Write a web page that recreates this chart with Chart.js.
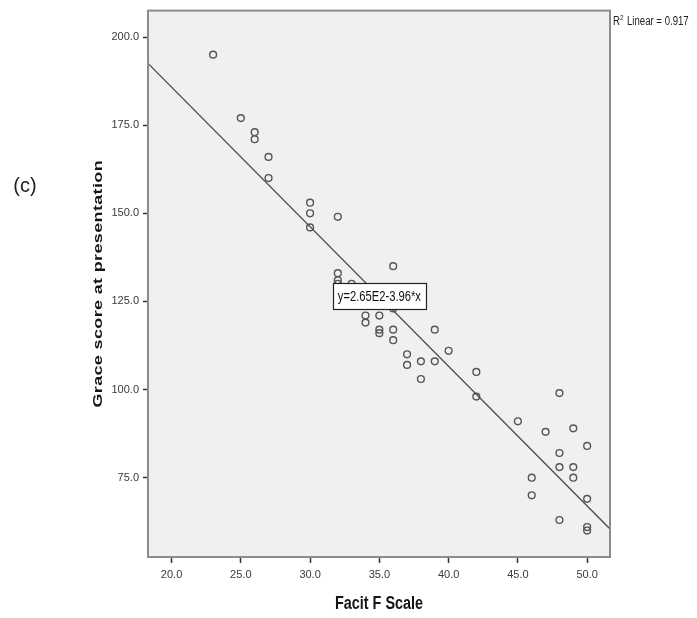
<!DOCTYPE html>
<html><head><meta charset="utf-8">
<script src="https://cdn.jsdelivr.net/npm/chart.js@4.4.1/dist/chart.umd.min.js"></script>
<style>html,body{margin:0;padding:0;background:#fff;}#wrap{width:697px;height:618px;position:relative;}</style>
</head><body><div id="wrap"><canvas id="c" width="697" height="618"></canvas></div>
<script>
// ---- data ----
const facitScale = [23,25,26,26,27,27,30,30,30,32,32,32,32,33,34,34,35,35,35,36,36,36,36,37,37,38,38,39,39,40,42,42,45,46,46,47,48,48,48,48,49,49,49,50,50,50,50];
const graceScore = [195,177,173,171,166,160,153,150,146,149,133,131,130,130,121,119,121,117,116,135,123,117,114,110,107,108,103,108,117,111,105,98,91,75,70,88,99,82,78,63,89,78,75,84,69,61,60];
const xTickValues = [20,25,30,35,40,45,50];
const yTickValues = [75,100,125,150,175,200];
const fitIntercept = 265;
const fitSlope = -3.96;
const rSquared = 0.917;
const fitLabelAtX = 35;
const fitLabelText = 'y=2.65E2-3.96*x';
const xAxisTitle = 'Facit F Scale';
const yAxisTitle = 'Grace score at presentation';
const panelLabel = '(c)';
const xRange = [18.3, 51.65];
const yRange = [52.5, 207.5];

const points = facitScale.map((x, i) => ({x: x, y: graceScore[i]}));
const fitLine = xRange.map(x => ({x: x, y: fitIntercept + fitSlope * x}));

const TICK_FONT = "'Liberation Sans', Arial, sans-serif";
const SANS = "'Liberation Sans', Arial, sans-serif";

function squeezed(ctx, text, x, y, font, sx, align, baseline, color, spacing) {
  ctx.save();
  ctx.translate(x, y);
  ctx.scale(sx, 1);
  ctx.font = font;
  ctx.fillStyle = color;
  ctx.textAlign = align;
  ctx.textBaseline = baseline;
  if (spacing) ctx.letterSpacing = spacing + 'px';
  ctx.fillText(text, 0, 0);
  ctx.restore();
}

const decor = {
  id: 'decor',
  beforeDraw(chart) {
    const {ctx, chartArea: a} = chart;
    ctx.save();
    ctx.fillStyle = '#ffffff';
    ctx.fillRect(0, 0, chart.width, chart.height);
    ctx.fillStyle = '#f0f0f0';
    ctx.fillRect(a.left, a.top, a.right - a.left, a.bottom - a.top);
    ctx.restore();
  },
  afterDatasetsDraw(chart) {
    const {ctx, chartArea: a, scales} = chart;
    ctx.save();
    ctx.strokeStyle = '#8c8c8c';
    ctx.lineWidth = 2;
    ctx.strokeRect(a.left, a.top, a.right - a.left, a.bottom - a.top);
    ctx.restore();
    const cx = scales.x.getPixelForValue(fitLabelAtX);
    const cy = scales.y.getPixelForValue(fitIntercept + fitSlope * fitLabelAtX);
    const w = 93, h = 26;
    ctx.save();
    ctx.fillStyle = '#ffffff';
    ctx.fillRect(cx - w / 2, cy - h / 2, w, h);
    ctx.strokeStyle = '#222';
    ctx.lineWidth = 1.2;
    ctx.strokeRect(Math.round(cx - w / 2) + 0.5, Math.round(cy - h / 2) + 0.5, w, h);
    ctx.restore();
    squeezed(ctx, fitLabelText, cx, cy + 1, '14px ' + SANS, 0.8, 'center', 'middle', '#111');
  },
  afterDraw(chart) {
    const {ctx, chartArea: a} = chart;
    const rx = a.right + 3, ry = 25;
    squeezed(ctx, 'R', rx, ry, '12px ' + SANS, 0.8, 'left', 'alphabetic', '#222');
    squeezed(ctx, '2', rx + 7, ry - 5, '8px ' + SANS, 0.8, 'left', 'alphabetic', '#222');
    squeezed(ctx, 'Linear = ' + rSquared.toFixed(3), rx + 14, ry, '12px ' + SANS, 0.8, 'left', 'alphabetic', '#222');
    squeezed(ctx, xAxisTitle, (a.left + a.right) / 2, 604, 'bold 18px ' + SANS, 0.8, 'center', 'middle', '#151515');
    ctx.save();
    ctx.translate(98, (a.top + a.bottom) / 2);
    ctx.rotate(-Math.PI / 2);
    ctx.scale(1, 0.75);
    ctx.font = 'bold 18px ' + SANS;
    ctx.letterSpacing = '0.35px';
    ctx.fillStyle = '#151515';
    ctx.textAlign = 'center';
    ctx.textBaseline = 'middle';
    ctx.fillText(yAxisTitle, 0, 0);
    ctx.restore();
    ctx.save();
    ctx.font = '20px ' + SANS;
    ctx.fillStyle = '#222';
    ctx.textAlign = 'center';
    ctx.textBaseline = 'middle';
    ctx.fillText(panelLabel, 25, 186);
    ctx.restore();
  }
};

new Chart(document.getElementById('c'), {
  type: 'scatter',
  data: {
    datasets: [
      {
        type: 'line',
        data: fitLine,
        borderColor: '#4a4a4a',
        borderWidth: 1.3,
        pointRadius: 0,
        fill: false,
        order: 0
      },
      {
        data: points,
        pointStyle: 'circle',
        pointRadius: 3.4,
        pointBorderWidth: 1.4,
        pointBorderColor: '#555555',
        pointBackgroundColor: 'rgba(0,0,0,0)',
        order: 1
      }
    ]
  },
  options: {
    responsive: false,
    devicePixelRatio: 1,
    animation: false,
    layout: {padding: {left: 0, right: 87, top: 9, bottom: 0}},
    plugins: {legend: {display: false}, tooltip: {enabled: false}},
    scales: {
      x: {
        type: 'linear',
        min: xRange[0], max: xRange[1],
        afterBuildTicks: s => { s.ticks = xTickValues.map(v => ({value: v})); },
        afterFit: s => { s.height = 61; },
        grid: {drawOnChartArea: false, drawTicks: true, tickLength: 6, tickColor: '#333', tickWidth: 1.5},
        border: {display: false},
        ticks: {
          callback: v => Number(v).toFixed(1),
          font: {family: TICK_FONT, size: 11},
          color: '#3a3a3a',
          padding: 5,
          maxRotation: 0,
          autoSkip: false
        }
      },
      y: {
        type: 'linear',
        min: yRange[0], max: yRange[1],
        afterBuildTicks: s => { s.ticks = yTickValues.map(v => ({value: v})); },
        afterFit: s => { s.width = 148; },
        grid: {drawOnChartArea: false, drawTicks: true, tickLength: 5, tickColor: '#333', tickWidth: 1.5},
        border: {display: false},
        ticks: {
          callback: v => Number(v).toFixed(1),
          font: {family: TICK_FONT, size: 11},
          color: '#3a3a3a',
          padding: 4,
          autoSkip: false
        }
      }
    }
  },
  plugins: [decor]
});
</script>
</body></html>
